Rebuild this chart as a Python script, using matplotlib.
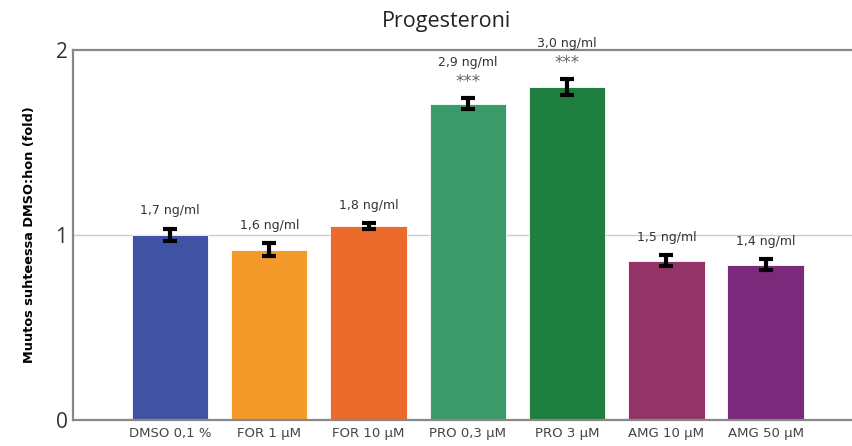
import numpy as np
import matplotlib
matplotlib.use('Agg')
import matplotlib.pyplot as plt

# Data
categories = ["DMSO 0,1 %", "FOR 1 µM", "FOR 10 µM", "PRO 0,3 µM", "PRO 3 µM", "AMG 10 µM", "AMG 50 µM"]
fold_change = [1.00, 0.92, 1.05, 1.71, 1.80, 0.86, 0.84]
errors = [0.035, 0.036, 0.015, 0.030, 0.045, 0.030, 0.030]
conc_labels = ["1,7 ng/ml", "1,6 ng/ml", "1,8 ng/ml", "2,9 ng/ml", "3,0 ng/ml", "1,5 ng/ml", "1,4 ng/ml"]
significance = ["", "", "", "***", "***", "", ""]
colors = ["#3f52a3", "#f39a2a", "#ec6a2c", "#3a9a6a", "#1f7f41", "#943466", "#7b2a7b"]

fig = plt.figure(figsize=(8.52, 4.46), dpi=100)
ax = fig.add_axes([73 / 852, 1 - 420 / 446, 1 - 73 / 852, (420 - 50) / 446])

x = np.arange(len(categories))
ax.bar(x, fold_change, width=0.77, color=colors, edgecolor="white", linewidth=0.6, zorder=2)
ax.errorbar(x, fold_change, yerr=errors, fmt="none", ecolor="black",
            elinewidth=3, capsize=5, capthick=3, zorder=3)

# labels above the error bars
for xi, val, err, lab, sig in zip(x, fold_change, errors, conc_labels, significance):
    top = val + err
    if sig:
        ax.annotate(sig, (xi, top), xytext=(0, 5), textcoords="offset points",
                    ha="center", va="bottom", fontsize=12, color="#666666")
        ax.annotate(lab, (xi, top), xytext=(0, 21), textcoords="offset points",
                    ha="center", va="bottom", fontsize=9, color="#333333")
    else:
        ax.annotate(lab, (xi, top), xytext=(0, 8), textcoords="offset points",
                    ha="center", va="bottom", fontsize=9, color="#333333")

ax.set_xlim(-0.977, 6.87)
ax.set_ylim(0, 2)
ax.set_yticks([0, 1, 2])
ax.set_yticklabels(["0", "1", "2"], fontfamily="Open Sans", fontsize=15, color="#333333")
ax.set_xticks(x)
ax.set_xticklabels(categories, fontsize=9.5, color="#444444")
ax.tick_params(axis="both", length=0)
ax.tick_params(axis="x", pad=5)
ax.tick_params(axis="y", pad=4)

ax.axhline(1, color="#cccccc", linewidth=1, zorder=1)
for side in ["left", "top", "bottom"]:
    ax.spines[side].set_color("#888888")
    ax.spines[side].set_linewidth(1.6)
ax.spines["right"].set_visible(False)

ax.set_ylabel("Muutos suhteessa DMSO:hon (fold)", fontsize=9.3, fontweight="bold", labelpad=14)

fig.text(446 / 852, 1 - 22 / 446, "Progesteroni", fontfamily="Open Sans",
         fontsize=15.5, ha="center", va="center", color="#222222")

fig.savefig("out.png", dpi=100)
